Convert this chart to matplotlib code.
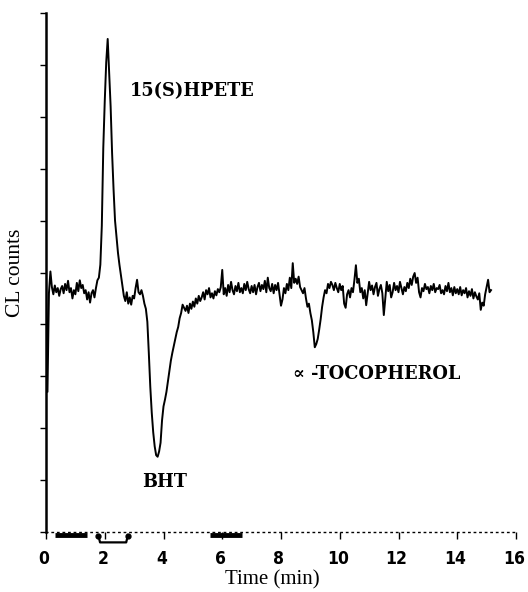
import numpy as np
import matplotlib
matplotlib.use("Agg")
import matplotlib.pyplot as plt
import matplotlib.transforms as mtransforms

# ---- data ----
sample_step_min = 0.05
cl_counts = [
    4.95, 2.70, 4.60, 5.02, 4.72, 4.58, 4.75, 4.62, 4.70, 4.55, 4.68, 4.74, 4.60, 4.78, 4.66, 4.84, 4.62, 4.70, 4.50, 4.66,
    4.58, 4.80, 4.64, 4.85, 4.70, 4.76, 4.60, 4.66, 4.48, 4.62, 4.42, 4.60, 4.66, 4.52, 4.70, 4.85, 4.90, 5.15, 5.90, 7.40,
    8.30, 9.05, 9.50, 8.85, 8.20, 7.30, 6.60, 6.00, 5.70, 5.38, 5.15, 4.95, 4.75, 4.55, 4.45, 4.62, 4.40, 4.52, 4.38, 4.55,
    4.50, 4.70, 4.86, 4.62, 4.58, 4.66, 4.55, 4.40, 4.30, 4.05, 3.45, 2.80, 2.30, 1.92, 1.65, 1.48, 1.45, 1.55, 1.72, 2.15,
    2.42, 2.55, 2.70, 2.90, 3.10, 3.30, 3.45, 3.58, 3.70, 3.85, 3.95, 4.12, 4.22, 4.38, 4.32, 4.26, 4.36, 4.22, 4.40, 4.30,
    4.44, 4.34, 4.50, 4.40, 4.55, 4.45, 4.52, 4.62, 4.48, 4.66, 4.58, 4.70, 4.52, 4.60, 4.50, 4.64, 4.56, 4.68, 4.62, 4.72,
    5.05, 4.58, 4.70, 4.55, 4.76, 4.62, 4.82, 4.66, 4.58, 4.74, 4.64, 4.80, 4.62, 4.70, 4.60, 4.78, 4.66, 4.82, 4.68, 4.60,
    4.74, 4.62, 4.76, 4.58, 4.72, 4.80, 4.64, 4.76, 4.68, 4.84, 4.62, 4.90, 4.70, 4.64, 4.78, 4.60, 4.76, 4.66, 4.80, 4.58,
    4.36, 4.48, 4.70, 4.60, 4.78, 4.66, 4.90, 4.70, 5.18, 4.80, 4.88, 4.78, 4.92, 4.72, 4.66, 4.60, 4.70, 4.50, 4.34, 4.40,
    4.22, 4.08, 3.85, 3.56, 3.62, 3.72, 3.90, 4.10, 4.34, 4.52, 4.66, 4.60, 4.78, 4.70, 4.82, 4.76, 4.66, 4.80, 4.70, 4.62,
    4.78, 4.66, 4.74, 4.40, 4.32, 4.58, 4.66, 4.52, 4.70, 4.62, 4.86, 5.14, 4.80, 4.88, 4.62, 4.70, 4.50, 4.66, 4.37, 4.60,
    4.82, 4.66, 4.75, 4.58, 4.72, 4.80, 4.55, 4.68, 4.76, 4.60, 4.18, 4.50, 4.82, 4.64, 4.76, 4.52, 4.62, 4.80, 4.66, 4.74,
    4.62, 4.82, 4.70, 4.58, 4.72, 4.64, 4.80, 4.70, 4.88, 4.76, 4.92, 4.99, 4.80, 4.90, 4.62, 4.52, 4.70, 4.64, 4.78, 4.68,
    4.72, 4.60, 4.74, 4.66, 4.78, 4.62, 4.70, 4.68, 4.76, 4.60, 4.66, 4.58, 4.74, 4.64, 4.80, 4.62, 4.70, 4.56, 4.72, 4.60,
    4.68, 4.58, 4.72, 4.56, 4.66, 4.60, 4.70, 4.52, 4.64, 4.55, 4.68, 4.50, 4.62, 4.54, 4.48, 4.60, 4.28, 4.42, 4.36, 4.58,
    4.72, 4.86, 4.62, 4.66,
]
time_min = np.arange(len(cl_counts)) * sample_step_min

x_ticks = [0, 2, 4, 6, 8, 10, 12, 14, 16]
x_tick_labels = ["0", "2", "4", "6", "8", "10", "12", "14", "16"]
y_ticks = [0, 1, 2, 3, 4, 5, 6, 7, 8, 9, 10]

# injection marks along the time axis (min)
bar_intervals = [(0.31, 1.40), (5.58, 6.67)]
bracket_interval = (1.78, 2.79)

# peak labels: (text, time, counts)
peak_labels = [
    ("15(S)HPETE", 2.86, 8.50),
    ("BHT", 3.27, 0.96),
    ("\u221d -TOCOPHEROL", 8.40, 3.04),
]

# ---- figure ----
W, H = 528, 592
fig = plt.figure(figsize=(W / 100, H / 100), dpi=100)
ax = fig.add_axes([46 / W, 1 - 532 / H, 470 / W, 519 / H])

ax.plot(time_min, cl_counts, color="black", lw=1.4)

ax.set_xlim(0, 16)
ax.set_ylim(0, 10)

for side in ("top", "right"):
    ax.spines[side].set_visible(False)
ax.spines["left"].set_linewidth(1.8)
ax.spines["bottom"].set_linestyle((0, (1, 3)))
ax.spines["bottom"].set_linewidth(1.0)

ax.set_yticks(y_ticks)
ax.set_yticklabels([])
ax.tick_params(axis="y", direction="out", length=4, width=1)

ax.set_xticks(x_ticks)
ax.set_xticklabels(x_tick_labels, fontfamily="DejaVu Sans", fontstretch="condensed",
                   fontweight="bold", fontsize=12.5)
ax.tick_params(axis="x", direction="out", length=5, width=1, pad=8)
shift = mtransforms.ScaledTranslation(-2 / 100, 0, fig.dpi_scale_trans)
for lbl in ax.get_xticklabels():
    lbl.set_transform(lbl.get_transform() + shift)

# marks on time axis
for (a, b) in bar_intervals:
    ax.plot([a, b], [-0.05, -0.05], color="black", lw=3.5, solid_capstyle="butt", clip_on=False)
ba, bb = bracket_interval
ax.plot([ba, ba + 0.06, bb - 0.06, bb], [-0.06, -0.20, -0.20, -0.06], color="black",
        lw=1.6, clip_on=False)
ax.plot([ba, bb], [-0.08, -0.08], "o", color="black", ms=3.5, clip_on=False)

for text, tx, ty in peak_labels:
    ax.text(tx, ty, text, fontfamily="DejaVu Serif", fontweight="bold",
            fontsize=12.8, ha="left", va="center")

fig.text(272 / W, 1 - 580 / H, "Time (min)", fontfamily="Liberation Serif", fontsize=15,
         ha="center", va="center")
fig.text(16 / W, 1 - 273 / H, "CL counts", fontfamily="Liberation Serif", fontsize=15.5,
         ha="center", va="center", rotation=90)

fig.savefig("out.png", dpi=100)
